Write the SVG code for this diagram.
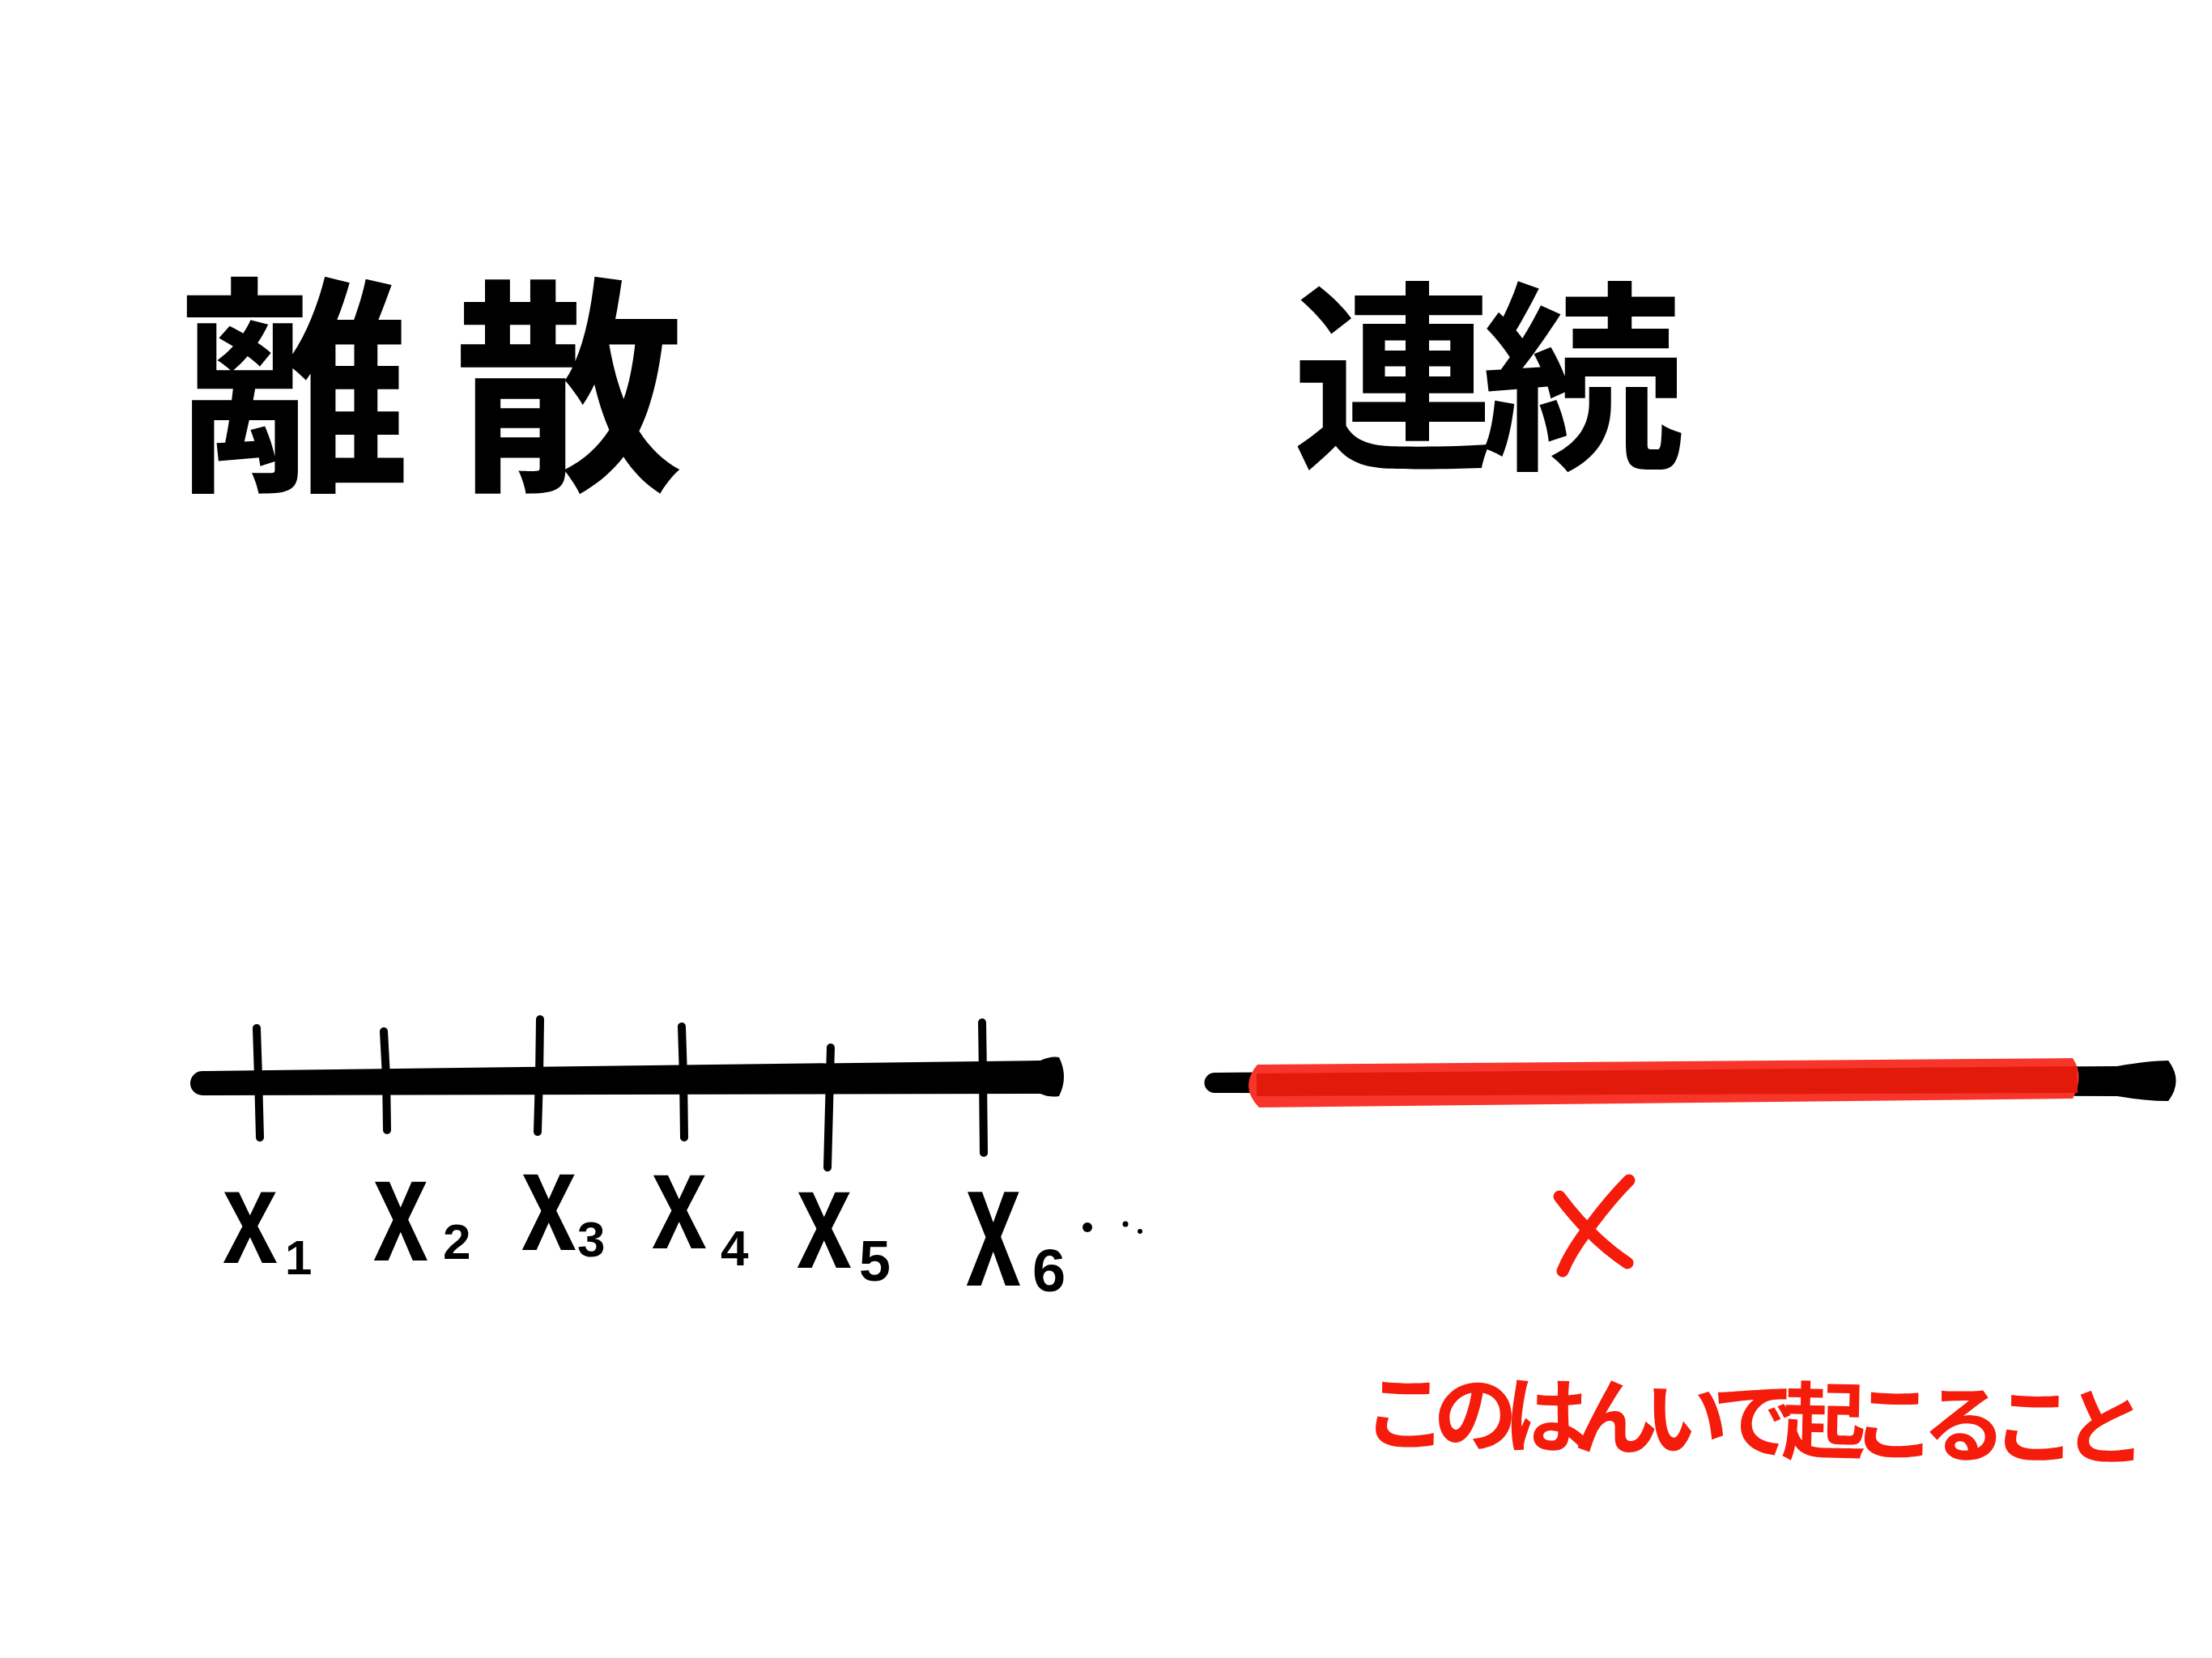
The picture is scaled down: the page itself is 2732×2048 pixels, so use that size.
<svg xmlns="http://www.w3.org/2000/svg" width="2732" height="2048" viewBox="0 0 2732 2048">
<style>
.cjk{font-family:"Noto Sans CJK JP","Noto Sans CJK SC",sans-serif;font-weight:700;fill:#000}
.xb{font-family:"Liberation Sans",Arial,sans-serif;font-weight:700;fill:#000}
.tick{stroke:#000;stroke-width:10;stroke-linecap:round;fill:none}
.red{fill:#f51c0c}
</style>
<rect width="2732" height="2048" fill="#fff"/>
<g id="title-discrete">
<text class="cjk" x="222" y="584" font-size="285">離</text>
<text class="cjk" x="560" y="584" font-size="285">散</text>
</g>
<g id="title-continuous">
<text class="cjk" x="1596" y="560" font-size="250">連</text>
<text class="cjk" x="1830" y="560" font-size="250">続</text>
</g>
<g id="axis-discrete">
<path d="M 250 1323 L 1285 1310 Q 1298 1304 1308 1306 Q 1320 1330 1308 1354 Q 1296 1356 1285 1351 L 250 1353 A 15 15 0 0 1 250 1323 Z" fill="#000"/>
<path class="tick" d="M 317 1270 L 319 1330 L 321 1405"/>
<path class="tick" d="M 474 1274 L 477 1330 L 478 1396"/>
<path class="tick" d="M 667 1259 L 666 1330 L 664 1398"/>
<path class="tick" d="M 842 1268 L 844 1330 L 845 1405"/>
<path class="tick" d="M 1026 1294 L 1025 1330 L 1022 1442"/>
<path class="tick" d="M 1213 1263 L 1214 1330 L 1215 1424"/>
</g>
<g id="labels-discrete">
<g id="label-x1"><text class="xb" font-size="122" transform="translate(275 1560) scale(1 1.35)">x</text><text class="xb" x="352" y="1574" font-size="60">1</text></g>
<g id="label-x2"><text class="xb" font-size="122" transform="translate(461 1557) scale(1 1.5)">x</text><text class="xb" x="547" y="1555" font-size="62">2</text></g>
<g id="label-x3"><text class="xb" font-size="122" transform="translate(644 1544) scale(1 1.45)">x</text><text class="xb" x="713" y="1552" font-size="62">3</text></g>
<g id="label-x4"><text class="xb" font-size="122" transform="translate(805 1542) scale(1 1.4)">x</text><text class="xb" x="890" y="1563" font-size="62">4</text></g>
<g id="label-x5"><text class="xb" font-size="122" transform="translate(984 1566) scale(1 1.45)">x</text><text class="xb" x="1061" y="1582" font-size="70">5</text></g>
<g id="label-x6"><text class="xb" font-size="122" transform="translate(1193 1588) scale(1 1.8)">x</text><text class="xb" x="1275" y="1595" font-size="74">6</text></g>
<g id="ellipsis" fill="#000"><circle cx="1343" cy="1516" r="6"/><circle cx="1390" cy="1512" r="3.5"/><circle cx="1408" cy="1521" r="3"/></g>
</g>
<g id="axis-continuous">
<path d="M 1500 1325 L 2615 1317 Q 2655 1310 2678 1310 Q 2697 1335 2678 1360 Q 2650 1360 2615 1354 L 1500 1350 A 12.5 12.5 0 0 1 1500 1325 Z" fill="#000"/>
<path d="M 1553 1315 L 2560 1307 Q 2575 1330 2560 1357 L 1555 1368 Q 1530 1342 1553 1315 Z" fill="#f8352a"/>
<path d="M 1552 1326 L 2565 1317 L 2566 1350 L 1552 1354 Z" fill="#e11a0b"/>
</g>
<g id="cross" fill="none" stroke="#f51c0c" stroke-width="15" stroke-linecap="round">
<path d="M 1926 1478 Q 1965 1530 2010 1560"/>
<path d="M 2012 1458 Q 1990 1480 1966 1512 Q 1940 1545 1930 1570"/>
</g>
<g id="caption">
<text class="red" x="1683" y="1782" font-size="104" font-weight="700" font-family="Noto Sans CJK JP,Noto Sans CJK SC,sans-serif" textLength="968" lengthAdjust="spacing" transform="rotate(1.2 1683 1782)">このはんいで起こること</text>
</g>
</svg>
